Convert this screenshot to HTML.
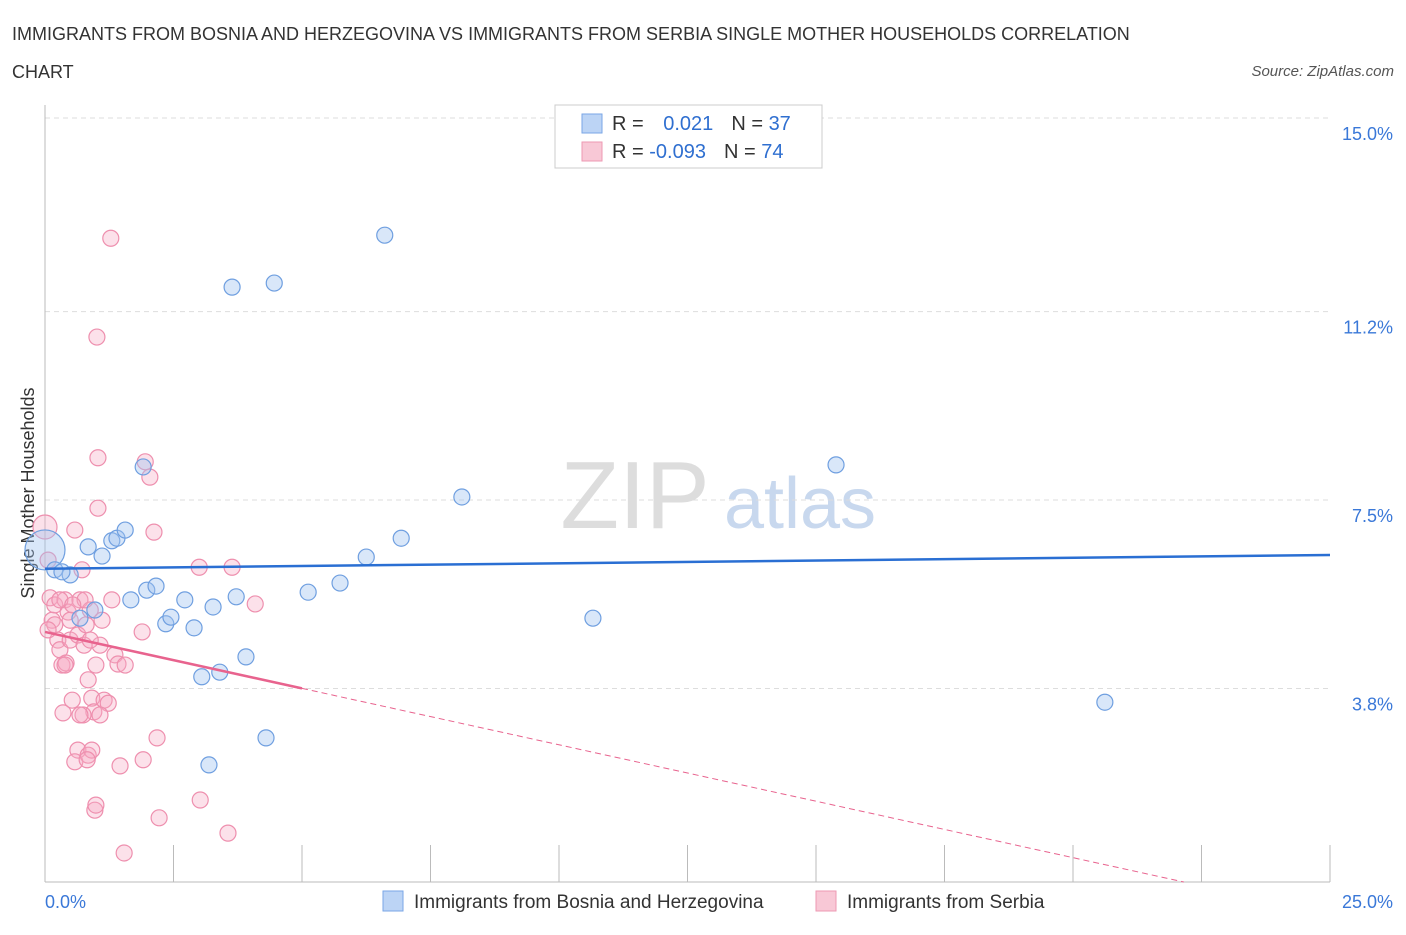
<!DOCTYPE html>
<html><head><meta charset="utf-8"><style>
body{margin:0;background:#fff;font-family:"Liberation Sans",sans-serif;}
svg text{font-family:"Liberation Sans",sans-serif;}
</style></head><body>
<svg id="c" width="1406" height="930" xmlns="http://www.w3.org/2000/svg">
<text x="12" y="40" font-size="18" fill="#333">IMMIGRANTS FROM BOSNIA AND HERZEGOVINA VS IMMIGRANTS FROM SERBIA SINGLE MOTHER HOUSEHOLDS CORRELATION</text>
<text x="12" y="78" font-size="18" fill="#333">CHART</text>
<text x="1394" y="76" font-size="15" fill="#555" font-style="italic" text-anchor="end">Source: ZipAtlas.com</text>
<text x="635" y="528" font-size="96" fill="#ddd" font-family="Liberation Serif" text-anchor="middle">ZIP</text>
<text x="800" y="528" font-size="72" fill="#c8d8ee" text-anchor="middle">atlas</text>
<text transform="translate(34,493) rotate(-90)" font-size="18" fill="#333" text-anchor="middle">Single Mother Households</text>
<g id="grid"></g><g id="pts"></g><g id="trend"></g>
<rect x="555" y="105" width="267" height="63" fill="#fff" stroke="#ccc"/>
<rect x="582" y="114" width="20" height="19" fill="#bcd4f5" stroke="#7aa6e6"/>
<rect x="582" y="142" width="20" height="19" fill="#f8c8d6" stroke="#ee99b3"/>
<text x="612" y="130" font-size="20" fill="#333">R = <tspan fill="#2f6fd0" dx="14">0.021</tspan><tspan fill="#333" dx="18">N = </tspan><tspan fill="#2f6fd0">37</tspan></text>
<text x="612" y="158" font-size="20" fill="#333">R = <tspan fill="#2f6fd0">-0.093</tspan><tspan fill="#333" dx="18">N = </tspan><tspan fill="#2f6fd0">74</tspan></text>
<text x="45" y="908" font-size="18" fill="#3a78d8">0.0%</text>
<text x="1393" y="908" font-size="18" fill="#3a78d8" text-anchor="end">25.0%</text>
<rect x="383" y="891" width="20" height="20" fill="#bcd4f5" stroke="#7aa6e6"/>
<text x="414" y="908" font-size="19" fill="#333">Immigrants from Bosnia and Herzegovina</text>
<rect x="816" y="891" width="20" height="20" fill="#f8c8d6" stroke="#ee99b3"/>
<text x="847" y="908" font-size="19" fill="#333">Immigrants from Serbia</text>
</svg>
<script>
const yTicks=[15.0,11.2,7.5,3.8];
const yTickLabels=["15.0%","11.2%","7.5%","3.8%"];
const blueX=[0,0.19,0.49,0.84,1.11,1.30,1.40,1.56,0.97,0.68,1.67,1.98,2.16,1.91,2.35,2.45,2.72,2.90,3.27,3.05,3.40,3.72,3.91,3.19,4.30,3.64,4.46,5.12,5.74,6.25,6.93,8.11,6.61,10.66,15.39,20.62,0.33];
const blueY=[6.52,6.13,6.03,6.58,6.40,6.70,6.75,6.91,5.34,5.18,5.54,5.73,5.81,8.15,5.07,5.20,5.54,4.99,5.40,4.03,4.12,5.60,4.42,2.30,2.83,11.68,11.76,5.69,5.87,6.38,6.75,7.56,12.70,5.18,8.19,3.53,6.09];
const pinkX=[0,0.06,0.10,0.14,0.19,0.25,0.29,0.33,0.39,0.45,0.49,0.53,0.58,0.64,0.68,0.72,0.76,0.80,0.84,0.88,0.91,0.95,0.99,1.03,1.07,1.11,1.15,1.23,1.30,1.36,1.42,1.46,1.56,0.64,0.58,0.84,0.91,0.97,1.54,1.28,1.01,1.03,1.95,2.04,2.12,1.89,2.18,1.91,2.22,3.00,3.64,4.09,3.02,3.56,0.35,0.41,0.29,0.74,0.78,0.19,0.06,0.49,0.39,0.54,0.88,1.07,0.99,0.68,0.82];
const pinkY=[6.97,6.32,5.58,5.14,5.44,4.75,4.56,4.26,5.54,5.30,4.75,3.57,6.91,4.85,5.54,6.13,4.65,5.05,3.97,5.34,3.61,3.34,4.26,7.34,4.65,5.14,3.57,3.51,5.54,4.46,4.28,2.28,4.26,2.59,2.36,2.49,2.59,1.41,0.57,12.64,10.70,8.33,8.25,7.95,6.87,4.91,2.83,2.40,1.26,6.18,6.18,5.46,1.61,0.96,3.32,4.30,5.54,3.28,5.54,5.05,4.95,5.14,4.26,5.44,4.75,3.28,1.51,3.28,2.40];
const blueTrend=[6.15,6.42];
const pinkTrend=[4.91,-0.2216];
const NS="http://www.w3.org/2000/svg";
const X=v=>45+v*51.4, Y=v=>882-v*50.93;
function mk(tag,attrs,parent){const e=document.createElementNS(NS,tag);for(const k in attrs)e.setAttribute(k,attrs[k]);document.getElementById(parent).appendChild(e);return e;}
yTicks.forEach((t,i)=>{
 const l=mk('line',{x1:45,x2:1330,y1:Y(t),y2:Y(t),stroke:'#ddd','stroke-dasharray':'5,4'},'grid');
 
 
 const tx=mk('text',{x:1393,y:Y(t)+22,'font-size':18,fill:'#3a78d8','text-anchor':'end'},'grid');
 tx.textContent=yTickLabels[i];
 
 
});
const ax=mk('line',{x1:45,x2:1330,y1:882,y2:882,stroke:'#bbb'},'grid');


const ay=mk('line',{x1:45,x2:45,y1:105,y2:882,stroke:'#bbb'},'grid');


for(let i=0;i<=10;i++){
 const t=mk('line',{x1:X(i*2.5),x2:X(i*2.5),y1:845,y2:882,stroke:'#bbb'},'grid');
 
 
}
pinkX.forEach((x,i)=>{
 const c=mk('circle',{cx:X(x),cy:Y(pinkY[i]),r:i===0?12:8,fill:'rgba(246,170,195,0.35)',stroke:'#ee8fae','stroke-width':1.2},'pts');
 
 
});
blueX.forEach((x,i)=>{
 const c=mk('circle',{cx:X(x),cy:Y(blueY[i]),r:i===0?20:8,fill:'rgba(160,195,240,0.4)',stroke:'#6f9fe0','stroke-width':1.2},'pts');
 
 
});
const bt=mk('line',{x1:X(0),y1:Y(blueTrend[0]),x2:X(25),y2:Y(blueTrend[1]),stroke:'#2a6fd3','stroke-width':2.5},'trend');


const pf=x=>pinkTrend[0]+pinkTrend[1]*x;
const xEnd=-pinkTrend[0]/pinkTrend[1];
const ps=mk('line',{x1:X(0),y1:Y(pf(0)),x2:X(5),y2:Y(pf(5)),stroke:'#e8638e','stroke-width':2.5},'trend');


const pd=mk('line',{x1:X(5),y1:Y(pf(5)),x2:X(xEnd),y2:Y(0),stroke:'#e8638e','stroke-width':1,'stroke-dasharray':'6,4'},'trend');


</script>
</body></html>
